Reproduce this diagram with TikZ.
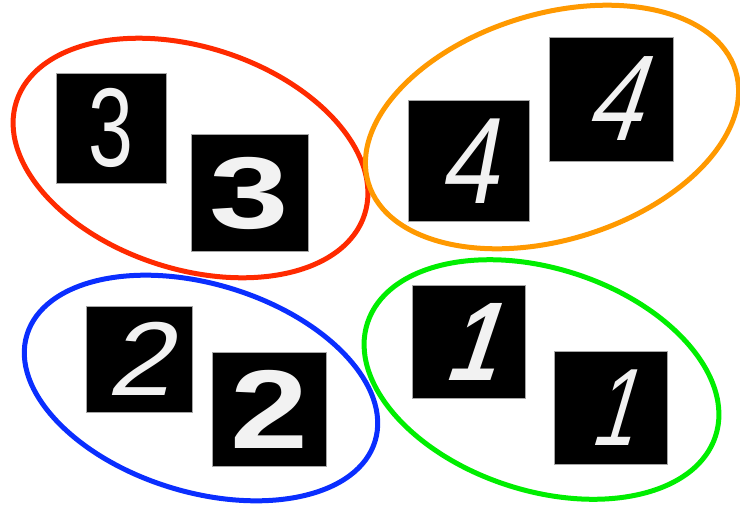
\documentclass[tikz,border=0pt]{standalone}
\usepackage{fontspec}
\setmainfont{Liberation Sans}
\newfontfamily\leanfont[FakeSlant=0.22]{Liberation Sans}
\newfontfamily\steepfont[FakeSlant=0.42]{Liberation Sans}
\usetikzlibrary{shapes.geometric}
\definecolor{grpred}{HTML}{FF2A00}
\definecolor{grporange}{HTML}{FF9900}
\definecolor{grpblue}{HTML}{0A2EFF}
\definecolor{grpgreen}{HTML}{00EE00}
\definecolor{inkwhite}{HTML}{F2F2F2}
\newcommand{\digitsize}[1]{\fontsize{#1}{#1}\selectfont}

\begin{document}
\begin{tikzpicture}[
  x=1pt, y=-1pt,
  cluster/.style = {ellipse, draw, line width=5pt, inner sep=0pt},
  mnist/.style   = {fill=black, draw=gray!70, line width=0.6pt, inner sep=0pt,
                    text=inkwhite, align=center},
]
\useasboundingbox (0,0) rectangle (740,507);

% --- the four groups, drawn first so the samples sit on top ---------------------------------------
\node[cluster, draw=grpred,    minimum width=366pt, minimum height=222pt, rotate=-18] (grp3) at (190.5,158) {};
\node[cluster, draw=grporange, minimum width=384pt, minimum height=226pt, rotate=17]  (grp4) at (552,127)   {};
\node[cluster, draw=grpblue,   minimum width=364pt, minimum height=208pt, rotate=-17] (grp2) at (201,388)   {};
\node[cluster, draw=grpgreen,  minimum width=366pt, minimum height=222pt, rotate=-18] (grp1) at (541.5,379.5) {};

% --- the samples, two per group -------------------------------------------------------------------
\node[mnist, minimum size=110pt] (d3a) at (111,128)
  {\digitsize{112}\scalebox{0.72}[1]{3}};
\node[mnist, minimum size=117pt] (d3b) at (249.5,193)
  {\digitsize{102}\bfseries\scalebox{1.4}[1]{3}};

\node[mnist, minimum size=121pt] (d4a) at (468.5,161)
  {\digitsize{123}\leanfont\scalebox{0.85}[1]{4}};
\node[mnist, minimum size=124pt] (d4b) at (611,99)
  {\digitsize{122}\steepfont\scalebox{0.8}[1]{4}};

\node[mnist, minimum size=106pt] (d2a) at (139,359)
  {\digitsize{105}\leanfont\scalebox{1.1}[1]{2}};
\node[mnist, minimum size=114pt] (d2b) at (269,409)
  {\digitsize{112}\bfseries\scalebox{1.25}[1]{2}};

\node[mnist, minimum size=113pt] (d1a) at (468.5,342)
  {\digitsize{112}\bfseries\steepfont\scalebox{0.8}[1]{1}};
\node[mnist, minimum size=113pt] (d1b) at (610.5,407.5)
  {\digitsize{110}\steepfont\scalebox{0.7}[1]{1}};

\end{tikzpicture}
\end{document}
